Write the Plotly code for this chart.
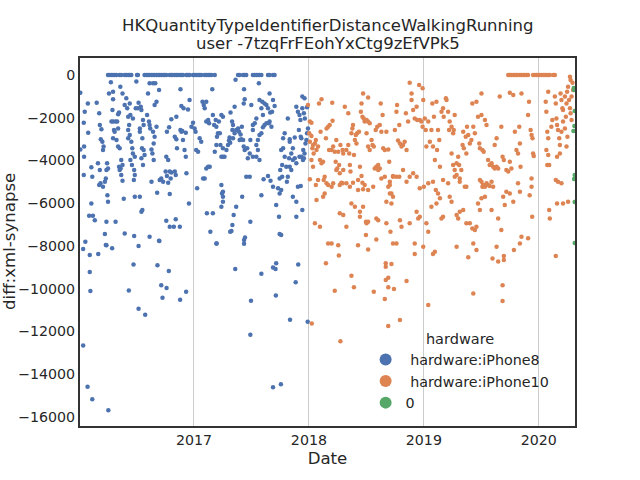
import pandas as pd
import plotly.graph_objects as go

# day offsets are counted from this date
BASE_DATE = "2016-01-01"

iphone8_days = [
    93, 98, 104, 109, 114, 120, 130, 135, 146, 151,
    157, 162, 167, 185, 188, 209, 215, 220, 225, 231,
    236, 241, 247, 252, 257, 262, 268, 273, 278, 289,
    294, 299, 305, 310, 315, 321, 326, 331, 342, 347,
    352, 363, 368, 373, 379, 384, 389, 400, 405, 411,
    416, 421, 432, 506, 511, 522, 527, 532, 553, 559,
    564, 569, 574, 580, 601, 606, 617, 622,
    5, 19, 16, 5, 17, 17, 16, 29, 30, 40,
    43, 40, 45, 51, 33, 57, 65, 67, 72, 70,
    75, 77, 79, 61, 67, 65, 69, 77, 83, 86,
    88, 90, 93, 91, 93, 88, 83, 88, 106, 96,
    102, 109, 109, 107, 104, 109, 112, 109, 114, 117,
    125, 128, 122, 125, 120, 125, 130, 128, 135, 139,
    133, 130, 135, 139, 143, 146, 117, 132, 139, 146,
    151, 154, 157, 160, 162, 164, 157, 162, 157, 167,
    170, 172, 178, 164, 169, 176, 178, 175, 172, 181,
    183, 188, 190, 194, 194, 197, 199, 204, 206, 202,
    201, 206, 209, 199, 204, 178, 194, 199, 202, 176,
    190, 220, 225, 236, 243, 255, 247, 241, 217, 223,
    225, 227, 236, 241, 247, 238, 231, 234, 238, 231,
    225, 249, 255, 278, 289, 302, 308, 321, 276, 280,
    289, 294, 305, 308, 292, 284, 289, 268, 262, 257,
    284, 278, 280, 287, 294, 310, 305, 310, 312, 323,
    326, 329, 340, 331, 336, 340, 326, 333, 323, 352,
    347, 350, 358, 368, 363, 342, 371, 373, 376, 384,
    379, 389, 393, 397, 400, 405, 405, 411, 414, 405,
    411, 416, 400, 395, 407, 426, 418, 424, 426, 430,
    432, 437, 439, 435, 437, 445, 442, 448, 453, 458,
    437, 453, 458, 455, 458, 453, 458, 450, 453, 458,
    463, 469, 458, 474, 477, 479, 481, 482, 487, 490,
    488, 490, 495, 500, 506, 509, 511, 514, 516, 518,
    522, 524, 527, 524, 527, 525, 498, 495, 481, 485,
    488, 492, 500, 519, 525, 528, 545, 543, 532, 535,
    537, 543, 545, 553, 548, 553, 559, 564, 572, 574,
    580, 583, 585, 590, 596, 601, 606, 608, 612, 606,
    604, 596, 590, 585, 580, 574, 569, 564, 569, 564,
    553, 574, 580, 587, 601, 609, 617, 614, 617, 622,
    627, 636, 638, 643, 646, 643, 638, 633, 638, 640,
    646, 643, 649, 654, 659, 649, 654, 664, 670, 670,
    675, 680, 686, 691, 696, 701, 704, 699, 707, 710,
    717, 710, 691, 696, 701, 707, 712, 717, 720, 723,
    725, 728, 686, 680, 691, 691, 680, 675, 670, 664,
    661, 668, 710, 715, 718, 725, 705, 713, 715, 705,
    14, 21, 35, 62, 86, 256, 35, 37, 174, 250,
    286, 262, 279, 159, 266, 322, 341, 190, 211, 14,
    28, 43, 94, 438, 525, 497, 580, 617, 627, 625,
    697, 689, 626, 547, 671, 727, 545, 617, 642,
]
iphone8_values = [
    0, 0, 0, 0, 0, 0, 0, 0, 0, 0,
    0, 0, 0, 0, 0, 0, 0, 0, 0, 0,
    0, 0, 0, 0, 0, 0, 0, 0, 0, 0,
    0, 0, 0, 0, 0, 0, 0, 0, 0, 0,
    0, 0, 0, 0, 0, 0, 0, 0, 0, 0,
    0, 0, 0, 0, 0, 0, 0, 0, 0, 0,
    0, 0, 0, 0, 0, 0, 0, 0,
    -830, -1720, -2230, -3480, -3350, -3820, -4680, -1330, -2700, -4320,
    -4760, -6010, -6580, -6790, -6580, -1300, -1790, -2340, -2540, -3010,
    -3120, -3510, -3350, -4130, -4450, -5150, -5070, -5230, -4990, -4840,
    -4450, -4130, -4370, -5620, -5930, -6860, -7440, -7960, -8110, -860,
    -340, -780, -1140, -1640, -2180, -2180, -2570, -2960, -2650, -2180,
    -1840, -1760, -2180, -2500, -3040, -3350, -3430, -4290, -3980, -4210,
    -4370, -4450, -4680, -4950, -5790, -7410, -6860, -550, -860, -1400,
    -1090, -1560, -1950, -2340, -1330, -1870, -2570, -2810, -2960, -3120,
    -3430, -3670, -3820, -3980, -4210, -4450, -4680, -4910, -2030, -1560,
    -310, -1560, -1300, -2500, -2650, -1480, -1640, -2110, -2340, -2960,
    -3430, -3510, -3740, -3900, -4210, -5690, -5690, -6400, -6320, -7530,
    -8000, -860, -390, -390, -390, -700, -1250, -1400, -1870, -2180,
    -2340, -2500, -2650, -2890, -2420, -3200, -3480, -3670, -3980, -4990,
    -7570, -5510, -7750, -6820, -7100, -7100, -6750, -7100, -4510, -4730,
    -4520, -4560, -4520, -4680, -4840, -5040, -5570, -4990, -4840, -4910,
    -3980, -3820, -2650, -2450, -2070, -1950, -2890, -3010, -3430, -2570,
    -2650, -2620, -2700, -3040, -3510, -3820, -1450, -1560, -670, -1170,
    -1610, -6010, -2420, -2500, -2230, -4600, -2650, -3510, -5300, -2960,
    -3590, -3120, -1250, -1400, -1560, -1250, -2180, -2110, -2260, -4370,
    -4290, -4290, -4840, -4840, -6470, -6470, -7330, -670, -1870, -2340,
    -3590, -3280, -2890, -2110, -2420, -2180, -2730, -2730, -1870, -1950,
    -7880, -5150, -5460, -5540, -5690, -6160, -5930, -3280, -3820, -3820,
    -3820, -3510, -3430, -3280, -3070, -2920, -3170, -1760, -2180, -2340,
    -2570, -2960, -2730, -2570, -2500, -2650, -3040, -2780, -3010, -2420,
    -3040, -3350, -3510, -1330, -1140, -670, -220, -1480, -7330, -7300,
    -7020, -6550, -6160, -5690, -7720, -7600, -6860, -4760, -4760, -3430,
    -3900, -3670, -3040, -2570, -1400, -2340, -2260, -2030, -390, -1170,
    -1560, -1250, -1870, -1330, -1400, -1560, -860, -1760, -2420, -2180,
    -2260, -2260, -2340, -2450, -2730, -2810, -3040, -3280, -3510, -3820,
    -3820, -3980, -5620, -4880, -4730, -4950, -5230, -1720, -1170, -1450,
    -6080, -6630, -7440, -7490, -4760, -5380, -5540, -5300, -4840, -4450,
    -4210, -3510, -3430, -3820, -4290, -2960, -2730, -2030, -3120, -3010,
    -3670, -3430, -2920, -1480, -1720, -1870, -2110, -2570, -2960, -1560,
    -1090, -6320, -6630, -5230, -3820, -3820, -3980, -3670, -3200, -3040,
    -2730, -2500, -3900, -3980, -4130, -5930, -5690, -4450, -4290, -4760,
    -4990, -3900, -1010, -1790, -2030, -1510, -2890, -3510, -3900, -5190,
    -8140, -7800, -8420, -8370, -7950, -7770, -9220, -10110, -8870, -8900,
    -9170, -9830, -9970, -10080, -10420, -10510, -10140, -10930, -11210, -12650,
    -14580, -15170, -15680, -7880, -7890, -9080, -9300, -9010, -8810, -9080,
    -8860, -9700, -10310, -10560, -11450, -11540, -12150, -14610, -14470,
]

iphone10_days = [
    1364, 1369, 1374, 1380, 1385, 1390, 1395, 1401, 1406, 1411,
    1416, 1422, 1427, 1443, 1448, 1454, 1459, 1464, 1470, 1475,
    1480, 1485, 1491, 1496, 1507, 1512,
    728, 734, 739, 732, 739, 734, 744, 750, 753, 742,
    746, 739, 734, 744, 753, 755, 760, 763, 771, 768,
    766, 771, 776, 778, 781, 785, 787, 792, 797, 795,
    803, 806, 805, 808, 813, 816, 818, 821, 824, 827,
    829, 834, 838, 831, 838, 840, 845, 850, 856, 856,
    859, 861, 863, 866, 869, 871, 874, 877, 880, 882,
    884, 890, 893, 887, 871, 866, 877, 893, 903, 912,
    903, 898, 896, 901, 905, 908, 914, 919, 924, 919,
    914, 919, 924, 930, 933, 937, 940, 945, 951, 956,
    943, 948, 956, 961, 959, 965, 967, 972, 977, 983,
    986, 988, 993, 983, 993, 990, 977, 998, 1004, 1009,
    1011, 1018, 1014, 1020, 1025, 1030, 1035, 1041, 1039, 1046,
    1051, 1057, 1057, 1062, 1067, 1073, 1075, 1081, 1083, 1088,
    1092, 1094, 1092, 1099, 1102, 1104, 1110, 1115, 1120, 1123,
    1128, 1125, 1131, 1136, 1138, 1141, 1145, 1147, 1152, 1157,
    1159, 1166, 1168, 1173, 1176, 1178, 1184, 1189, 1191, 1194,
    1184, 1189, 1194, 1200, 1205, 1208, 1210, 1215, 1219, 1221,
    1223, 1229, 1231, 1233, 1237, 1242, 1247, 1250, 1253, 1258,
    1263, 1268, 1272, 1274, 1279, 1279, 1282, 1286, 1290, 1295,
    1300, 1305, 1311, 1316, 1321, 1327, 1332, 1321, 1327, 1337,
    1342, 1346, 1350, 1358, 1364, 1369, 1374, 1369, 1380, 1385,
    1390, 1395, 1401, 1406, 1399, 1403, 1274, 1279, 1284, 1290,
    1295, 1300, 1305, 1311, 1316, 1282, 1293, 1231, 1226, 1210,
    1200, 1194, 1173, 1157, 1141, 1134, 1125, 1110, 1096, 1083,
    1073, 1062, 1051, 1041, 1030, 1018, 1009, 998, 988, 972,
    961, 951, 935, 919, 908, 903, 901, 898, 887, 861,
    850, 840, 829, 818, 808, 803, 792, 787, 781, 776,
    760, 755, 750, 766, 829, 840, 850, 893, 914, 919,
    945, 951, 977, 988, 998, 1020, 1025, 1051, 1073, 1078,
    1083, 1104, 1110, 1120, 1136, 1147, 1152, 1157, 1178, 1184,
    1200, 1205, 1210, 1221, 1231, 1242, 1250, 1258, 1263, 1268,
    1274, 1279, 1290, 1311, 1332, 1342, 1348, 1353, 1358, 1369,
    1380, 1395, 1401, 1406, 1427, 1432, 1438, 1438, 1440, 1435,
    1438, 1441, 1443, 1445, 1430, 1427, 1401, 1327, 1253, 1200,
    1094, 1067, 1009, 998, 945, 919, 887, 824, 803, 792,
    912, 1483, 1485, 1488, 1491, 1485, 1491, 1488, 1494, 1491,
    1501, 1504, 1512, 1515, 1517, 1519, 1522, 1526, 1528, 1530,
    1533, 1536, 1538, 1544, 1547, 1549, 1551, 1554, 1557, 1560,
    1562, 1565, 1552, 1549, 1544, 1538, 1533, 1528, 1519, 1515,
    1522, 1533, 1519, 1538, 1554, 1494, 1496, 1562, 1568, 1570,
    1565, 1560, 1263, 1382, 1515, 785, 826, 975, 975, 993,
    866, 874, 813, 937, 983, 975, 983, 1001, 1041, 972,
    1110, 1253, 1346, 1346, 1020, 983, 831, 740, 1067, 1131,
    1125, 1237, 1314, 1332, 1350, 1350,
]
iphone10_values = [
    0, 0, 0, 0, 0, 0, 0, 0, 0, 0,
    0, 0, 0, 0, 0, 0, 0, 0, 0, 0,
    0, 0, 0, 0, 0, 0,
    -1400, -2180, -2230, -2730, -2850, -3120, -3280, -3200, -3040, -3430,
    -3670, -3980, -4880, -4290, -5150, -3510, -3350, -1330, -1140, -2650,
    -3980, -4130, -4060, -4910, -4760, -2960, -2500, -2420, -2340, -3510,
    -3510, -2140, -1300, -3350, -3590, -4060, -3040, -4370, -3590, -4210,
    -4600, -5040, -5070, -3280, -3510, -3670, -1480, -3510, -1790, -3280,
    -3670, -4210, -4520, -2730, -2500, -2340, -3740, -3040, -2810, -3200,
    -2730, -2650, -4290, -4910, -5040, -6010, -6160, -6400, -6160, -6860,
    -860, -1330, -1720, -1950, -2030, -2180, -2110, -2180, -2260, -1050,
    -2730, -3350, -3510, -3040, -3280, -3350, -4370, -4290, -4210, -4370,
    -2570, -2420, -2340, -2650, -1330, -1870, -3430, -3510, -2650, -3480,
    -4060, -5150, -5540, -5230, -6010, -7330, -6940, -4760, -2570, -1720,
    -1400, -2340, -3070, -3200, -3350, -3280, -3120, -3510, -1790, -2180,
    -360, -860, -1170, -1640, -2030, -1480, -2110, -470, -2110, -2180,
    -620, -1170, -2420, -2030, -2570, -3350, -2180, -3120, -2570, -1330,
    -1950, -3350, -3980, -1250, -3510, -2570, -3040, -4290, -1720, -1560,
    -1950, -1090, -1170, -1720, -2570, -2180, -2420, -2730, -2570, -1870,
    -3670, -4210, -4450, -4130, -3820, -4210, -4840, -4450, -3280, -2650,
    -3430, -2890, -3670, -2420, -2810, -3200, -3040, -1330, -2420, -2730,
    -1250, -1950, -3200, -3430, -860, -1870, -3510, -3590, -2110, -2340,
    -3980, -4210, -4130, -4290, -4370, -4290, -4370, -3280, -2960, -1010,
    -2420, -3820, -3980, -4450, -4520, -4060, -4370, -830, -940, -2650,
    -3510, -3670, -3200, -860, -2420, -4290, -4910, -4990, -5150, -5230,
    -5070, -5150, -5190, -4990, -5230, -5230, -5150, -5230, -5230, -4990,
    -4680, -4760, -5070, -4910, -5540, -5380, -4990, -5070, -5230, -5300,
    -4760, -4600, -4760, -4990, -4450, -4760, -4760, -4730, -4990, -4760,
    -4840, -4450, -5230, -5380, -5150, -5350, -5040, -4730, -5380, -5230,
    -5070, -4450, -5150, -4450, -5070, -5230, -5150, -5070, -5540, -5690,
    -4910, -5850, -6940, -7100, -6470, -6550, -7100, -6630, -6940, -6860,
    -6710, -6790, -5930, -5540, -5690, -6790, -7100, -6940, -6400, -6710,
    -6630, -6940, -7330, -6160, -6010, -5770, -6710, -6630, -5690, -5930,
    -6550, -6710, -6400, -6320, -6940, -6940, -7180, -7250, -7100, -6010,
    -6320, -5770, -5690, -6320, -6710, -7250, -5690, -6080, -5460, -5540,
    -5930, -5070, -5460, -7570, -7640, -5620, -5230, -4840, -6630, -2570,
    -2810, -2960, -3670, -3790, -1250, -1870, -7880, -8030, -7880, -8030,
    -8030, -7880, -7880, -7880, -7690, -8160, -7960, -7960, -7880, -7880,
    -7490, -1250, -1720, -2650, -2960, -3510, -3740, -4210, -4210, -780,
    -2420, -2110, -1010, -1330, -2030, -2340, -2570, -2960, -3280, -860,
    -1170, -1560, -1640, -1010, -1950, -1330, -780, -550, -1170, -1560,
    -1790, -2110, -2890, -3350, -2500, -2180, -2650, -3670, -3820, -4910,
    -4990, -5070, -6010, -6010, -5930, -6320, -6710, -230, -360, -700,
    -1010, -80, -8190, -8190, -8470, -8810, -8440, -8810, -8970, -8840,
    -9390, -9930, -10090, -10140, -9480, -9590, -9930, -10010, -9640, -10480,
    -10760, -10220, -9830, -10570, -11460, -11740, -12460, -11620, -8370, -8270,
    -8370, -8530, -8580, -8730, -8470, -8660,
]

zero_days = [1572, 1573, 1575, 1574, 1571, 1575, 1573, 1575, 1575]
zero_values = [-610, -700, -1680, -2390, -2620, -4680, -4870, -5940, -7860]

# legend names keep the leading space of the original (non-breaking so it survives)
series_names = ["\u00a0hardware:iPhone8", "\u00a0hardware:iPhone10", "0"]
series_colors = ["#4C72B0", "#DD8452", "#55A868"]

title_lines = ["HKQuantityTypeIdentifierDistanceWalkingRunning",
               "user -7tzqFrFEohYxCtg9zEfVPk5"]

year_ticks = ["2017-01-01", "2018-01-01", "2019-01-01", "2020-01-01"]
year_labels = ["2017", "2018", "2019", "2020"]
y_ticks = [0, -2000, -4000, -6000, -8000, -10000, -12000, -14000, -16000]

FONT = "DejaVu Sans"
TEXT_COLOR = "#262626"


def to_dates(days):
    # turn day offsets into real timestamps
    return pd.Timestamp(BASE_DATE) + pd.to_timedelta(days, unit="D")


fig = go.Figure()

all_days = [iphone8_days, iphone10_days, zero_days]
all_values = [iphone8_values, iphone10_values, zero_values]

for name, color, days, values in zip(series_names, series_colors, all_days, all_values):
    fig.add_trace(go.Scatter(
        x=to_dates(days),
        y=values,
        mode="markers",
        name=name,
        marker=dict(color=color, size=4.5, line=dict(width=0)),
    ))

# two title lines set as separate texts so their spacing can be tight
for line, ypos in zip(title_lines, [1.0895, 1.0394]):
    fig.add_annotation(
        text=line, x=0.5, y=ypos, xref="paper", yref="paper",
        xanchor="center", yanchor="middle", showarrow=False,
        font=dict(family=FONT, size=16.5, color=TEXT_COLOR),
    )

# y label close to the left edge of the page
fig.add_annotation(
    text="diff:xml-synapse", x=-0.1434, y=0.5, xref="paper", yref="paper",
    xanchor="center", yanchor="middle", textangle=-90, showarrow=False,
    font=dict(family=FONT, size=16.6, color=TEXT_COLOR),
)

fig.update_layout(
    width=640,
    height=480,
    margin=dict(l=80, r=65, t=58, b=54, autoexpand=False),
    plot_bgcolor="white",
    paper_bgcolor="white",
    font=dict(family=FONT, size=14.2, color=TEXT_COLOR),
    legend=dict(
        title=dict(text="hardware", side="top center",
                   font=dict(family=FONT, size=14.5, color=TEXT_COLOR)),
        font=dict(family=FONT, size=14.3, color=TEXT_COLOR),
        x=0.577, y=0.275, xanchor="left", yanchor="top",
        bgcolor="rgba(255,255,255,0)",
        itemsizing="constant",
    ),
)

fig.update_xaxes(
    type="date",
    range=["2016-01-05", "2020-04-25"],
    tickvals=year_ticks,
    ticktext=year_labels,
    showgrid=True, gridcolor="#cccccc", gridwidth=1,
    showline=True, mirror=True, linecolor="#333333", linewidth=2,
    ticks="", zeroline=False, automargin=False,
    title=dict(text="Date", standoff=5, font=dict(size=16.6)),
)

fig.update_yaxes(
    range=[-16420, 795],
    tickvals=y_ticks,
    ticktext=[str(v).replace("-", "\u2212") for v in y_ticks],
    showgrid=False,
    showline=True, mirror=True, linecolor="#333333", linewidth=2,
    ticks="", zeroline=False, automargin=False,
)

# drop the browser's default page margin so the figure sits at the top-left corner
fig.write_html("out.html", config={"displayModeBar": False},
               post_script="document.body.style.margin = '0';")
